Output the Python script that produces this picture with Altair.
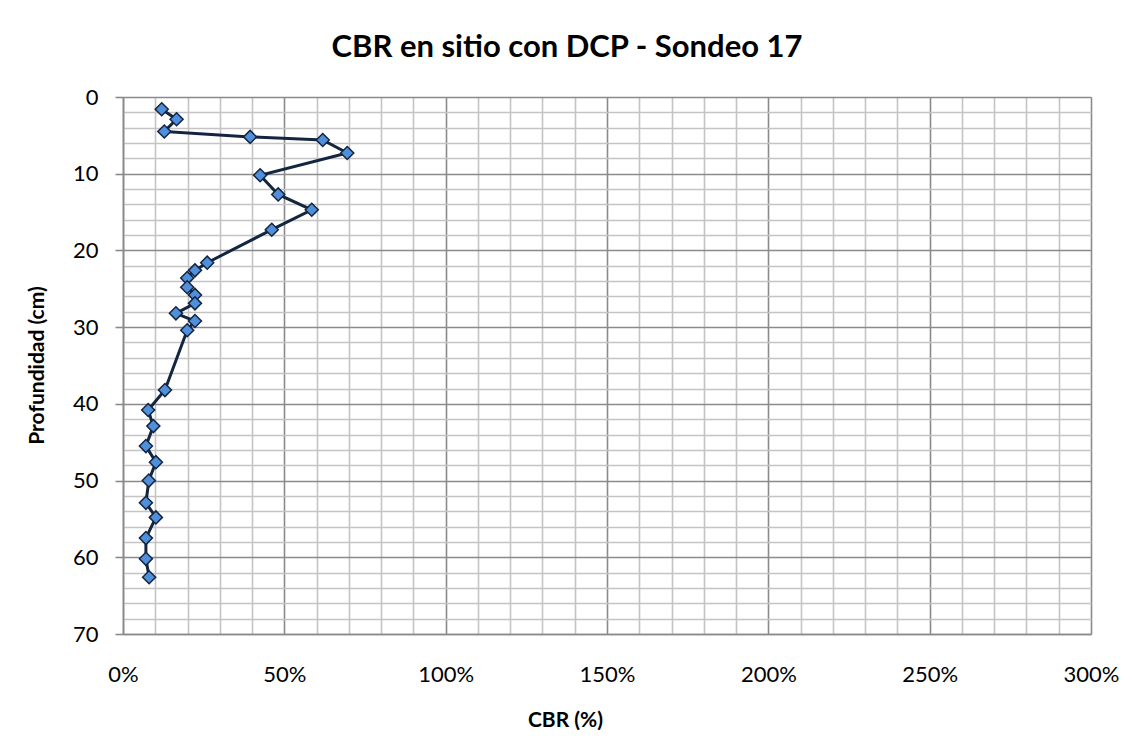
import altair as alt
import pandas as pd

# Depth (cm) and CBR (fraction)
depth = [1.6, 2.9, 4.5, 5.2, 5.6, 7.3, 10.2, 12.7, 14.7, 17.3, 21.6, 22.6, 23.6, 24.8, 25.8,
         26.9, 28.2, 29.2, 30.4, 38.2, 40.8, 42.9, 45.5, 47.6, 50.0, 52.9, 54.8, 57.5, 60.2, 62.6]
cbr_pct = [12.0, 16.6, 12.8, 39.4, 61.9, 69.5, 42.5, 48.1, 58.5, 46.1, 26.1, 22.3, 19.9, 19.9, 22.3,
           22.3, 16.4, 22.3, 19.9, 13.0, 7.8, 9.4, 7.1, 10.2, 8.0, 7.1, 10.2, 7.1, 7.1, 8.1]

x_ticks = [i / 10 for i in range(31)]
y_ticks = list(range(0, 71, 2))

df = pd.DataFrame({
    "order": list(range(len(depth))),
    "Profundidad": depth,
    "CBR": [v / 100 for v in cbr_pct],
})

FONT = "Lato"
MAJOR = "#8a8a8a"
MINOR = "#c4c4c4"

x_enc = alt.X(
    "CBR:Q",
    scale=alt.Scale(domain=[0, 3], nice=False, zero=False),
    axis=alt.Axis(
        values=x_ticks,
        tickCount=200,
        title="CBR (%)",
        labelExpr="(round(datum.value*10) % 5 === 0) ? format(datum.value, '.0%') : ''",
        labelFont=FONT, labelFontSize=22, labelColor="#000",
        labelPadding=30,
        ticks=False, tickSize=0,
        grid=True,
        gridColor=alt.condition("round(datum.value*10) % 5 === 0", alt.value(MAJOR), alt.value(MINOR)),
        gridWidth=1.6,
        domainColor=MAJOR, domainWidth=1.6,
        titleFont=FONT, titleFontSize=21, titleFontWeight="bold", titleColor="#000",
        titleX=442, titleY=86, titleAlign="center", titleBaseline="middle",
        labelFlush=False, labelOverlap=False,
    ),
)

y_enc = alt.Y(
    "Profundidad:Q",
    scale=alt.Scale(domain=[0, 70], reverse=True, nice=False, zero=False),
    axis=alt.Axis(
        values=y_ticks,
        tickCount=200,
        title="Profundidad (cm)",
        labelExpr="(datum.value % 10 === 0) ? format(datum.value, 'd') : ''",
        labelFont=FONT, labelFontSize=22, labelColor="#000",
        labelPadding=17,
        tickSize=8,
        tickColor=alt.condition("datum.value % 10 === 0", alt.value(MAJOR), alt.value("transparent")),
        tickWidth=1.6,
        grid=True,
        gridColor=alt.condition("datum.value % 10 === 0", alt.value(MAJOR), alt.value(MINOR)),
        gridWidth=1.6,
        domainColor=MAJOR, domainWidth=1.6,
        titleFont=FONT, titleFontSize=21, titleFontWeight="bold", titleColor="#000",
        titleX=-86, titleY=268, titleAlign="center", titleBaseline="middle", titleAngle=-90,
        labelFlush=False, labelOverlap=False,
    ),
)

base = alt.Chart(df)

line = base.mark_line(color="#14253f", strokeWidth=3).encode(
    x=x_enc, y=y_enc, order="order:Q"
)
pts = base.mark_point(
    shape="diamond", filled=True, size=170, fill="#4F8FDC", stroke="#14253f",
    strokeWidth=1.5, opacity=1,
).encode(x="CBR:Q", y="Profundidad:Q")

chart = alt.layer(line, pts).properties(
    width=968,
    height=537,
    autosize=alt.AutoSizeParams(type="none"),
    padding={"left": 115, "top": 89, "right": 33, "bottom": 96},
    title=alt.TitleParams(
        "CBR en sitio con DCP - Sondeo 17",
        font=FONT, fontSize=31, fontWeight="bold", color="#000",
        anchor="middle", frame="group", dx=-40, offset=22,
    ),
).configure_view(stroke="#a0a0a0", strokeWidth=1.6).configure(background="white")

chart.save("out.html", embed_options={"renderer": "svg", "actions": False})
